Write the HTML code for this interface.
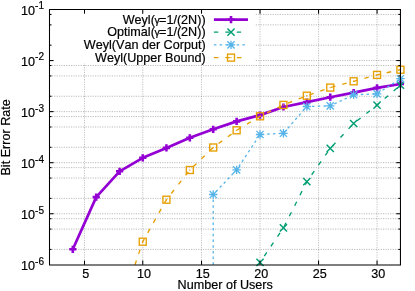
<!DOCTYPE html>
<html><head><meta charset="utf-8"><title>BER plot</title>
<style>
html,body{margin:0;padding:0;background:#fff;}
svg{display:block;will-change:transform;opacity:0.999;}
text{font-family:"Liberation Sans",sans-serif;fill:#000;font-kerning:none;stroke:#000;stroke-width:0.2px;}
</style></head><body>
<svg width="415" height="291" viewBox="0 0 415 291">
<rect width="415" height="291" fill="#fff"/>

<g stroke="#858585" stroke-width="0.55" stroke-dasharray="1.2 1.2" fill="none">
<line x1="84.50" y1="9.5" x2="84.50" y2="264.8" stroke="#909090"/>
<line x1="142.75" y1="9.5" x2="142.75" y2="264.8" stroke="#909090"/>
<line x1="201.52" y1="9.5" x2="201.52" y2="264.8" stroke="#909090"/>
<line x1="260.03" y1="9.5" x2="260.03" y2="264.8" stroke="#909090"/>
<line x1="318.54" y1="9.5" x2="318.54" y2="264.8" stroke="#909090"/>
<line x1="377.05" y1="9.5" x2="377.05" y2="264.8" stroke="#909090"/>
<line x1="49.4" y1="249.43" x2="400.45" y2="249.43"/>
<line x1="49.4" y1="229.11" x2="400.45" y2="229.11"/>
<line x1="49.4" y1="218.69" x2="400.45" y2="218.69"/>
<line x1="49.4" y1="213.74" x2="400.45" y2="213.74"/>
<line x1="49.4" y1="198.37" x2="400.45" y2="198.37"/>
<line x1="49.4" y1="178.05" x2="400.45" y2="178.05"/>
<line x1="49.4" y1="167.63" x2="400.45" y2="167.63"/>
<line x1="49.4" y1="162.68" x2="400.45" y2="162.68"/>
<line x1="49.4" y1="147.31" x2="400.45" y2="147.31"/>
<line x1="49.4" y1="126.99" x2="400.45" y2="126.99"/>
<line x1="49.4" y1="116.57" x2="400.45" y2="116.57"/>
<line x1="49.4" y1="111.62" x2="400.45" y2="111.62"/>
<line x1="49.4" y1="96.25" x2="400.45" y2="96.25"/>
<line x1="49.4" y1="75.93" x2="400.45" y2="75.93"/>
<line x1="49.4" y1="65.51" x2="400.45" y2="65.51"/>
<line x1="49.4" y1="60.56" x2="400.45" y2="60.56"/>
<line x1="49.4" y1="45.19" x2="400.45" y2="45.19"/>
<line x1="49.4" y1="24.87" x2="400.45" y2="24.87"/>
<line x1="49.4" y1="14.45" x2="400.45" y2="14.45"/>
</g>
<rect x="49.4" y="9.5" width="205.60" height="53.70" fill="#fff"/>
<clipPath id="c"><rect x="49.4" y="9.5" width="351.05" height="255.30"/></clipPath>
<polyline points="72.80,249.30 96.21,197.10 119.61,171.30 142.75,157.80 166.42,147.90 189.82,137.80 213.22,129.30 236.63,121.40 260.03,115.10 283.43,107.00 306.84,102.10 330.24,97.20 353.64,92.60 377.05,87.90 400.45,84.00" stroke="#9400d3" stroke-width="2.7" fill="none" stroke-linejoin="round"/>
<path d="M69.20 249.30H76.40M72.80 245.70V252.90" stroke="#9400d3" stroke-width="2.6" fill="none"/>
<path d="M92.61 197.10H99.81M96.21 193.50V200.70" stroke="#9400d3" stroke-width="2.6" fill="none"/>
<path d="M116.01 171.30H123.21M119.61 167.70V174.90" stroke="#9400d3" stroke-width="2.6" fill="none"/>
<path d="M139.15 157.80H146.35M142.75 154.20V161.40" stroke="#9400d3" stroke-width="2.6" fill="none"/>
<path d="M162.82 147.90H170.02M166.42 144.30V151.50" stroke="#9400d3" stroke-width="2.6" fill="none"/>
<path d="M186.22 137.80H193.42M189.82 134.20V141.40" stroke="#9400d3" stroke-width="2.6" fill="none"/>
<path d="M209.62 129.30H216.82M213.22 125.70V132.90" stroke="#9400d3" stroke-width="2.6" fill="none"/>
<path d="M233.03 121.40H240.23M236.63 117.80V125.00" stroke="#9400d3" stroke-width="2.6" fill="none"/>
<path d="M256.43 115.10H263.63M260.03 111.50V118.70" stroke="#9400d3" stroke-width="2.6" fill="none"/>
<path d="M279.83 107.00H287.03M283.43 103.40V110.60" stroke="#9400d3" stroke-width="2.6" fill="none"/>
<path d="M303.24 102.10H310.44M306.84 98.50V105.70" stroke="#9400d3" stroke-width="2.6" fill="none"/>
<path d="M326.64 97.20H333.84M330.24 93.60V100.80" stroke="#9400d3" stroke-width="2.6" fill="none"/>
<path d="M350.04 92.60H357.24M353.64 89.00V96.20" stroke="#9400d3" stroke-width="2.6" fill="none"/>
<path d="M373.45 87.90H380.65M377.05 84.30V91.50" stroke="#9400d3" stroke-width="2.6" fill="none"/>
<path d="M396.85 84.00H404.05M400.45 80.40V87.60" stroke="#9400d3" stroke-width="2.6" fill="none"/>
<polyline points="260.03,262.40 283.43,227.90 306.84,181.60 330.24,148.40 353.64,123.50 377.05,105.10 400.45,85.20" stroke="#009e73" stroke-width="1.35" fill="none" stroke-dasharray="4.5 7.3" stroke-dashoffset="4.25" clip-path="url(#c)"/>
<path d="M256.43 258.80L263.63 266.00M256.43 266.00L263.63 258.80" stroke="#009e73" stroke-width="1.45" fill="none"/>
<path d="M279.83 224.30L287.03 231.50M279.83 231.50L287.03 224.30" stroke="#009e73" stroke-width="1.45" fill="none"/>
<path d="M303.24 178.00L310.44 185.20M303.24 185.20L310.44 178.00" stroke="#009e73" stroke-width="1.45" fill="none"/>
<path d="M326.64 144.80L333.84 152.00M326.64 152.00L333.84 144.80" stroke="#009e73" stroke-width="1.45" fill="none"/>
<path d="M350.04 119.90L357.24 127.10M350.04 127.10L357.24 119.90" stroke="#009e73" stroke-width="1.45" fill="none"/>
<path d="M373.45 101.50L380.65 108.70M373.45 108.70L380.65 101.50" stroke="#009e73" stroke-width="1.45" fill="none"/>
<path d="M396.85 81.60L404.05 88.80M396.85 88.80L404.05 81.60" stroke="#009e73" stroke-width="1.45" fill="none"/>
<polyline points="213.22,264.80 213.22,194.50 236.63,169.90 260.03,134.50 283.43,133.30 306.84,106.50 330.24,105.90 353.64,94.80 377.05,93.90 400.45,78.70" stroke="#56b4e9" stroke-width="1.3" fill="none" stroke-dasharray="2.5 3.2"/>
<path d="M209.02 194.50H217.42M213.22 190.30V198.70M209.62 190.90L216.82 198.10M209.62 198.10L216.82 190.90" stroke="#56b4e9" stroke-width="1.3" fill="none"/>
<path d="M232.43 169.90H240.83M236.63 165.70V174.10M233.03 166.30L240.23 173.50M233.03 173.50L240.23 166.30" stroke="#56b4e9" stroke-width="1.3" fill="none"/>
<path d="M255.83 134.50H264.23M260.03 130.30V138.70M256.43 130.90L263.63 138.10M256.43 138.10L263.63 130.90" stroke="#56b4e9" stroke-width="1.3" fill="none"/>
<path d="M279.23 133.30H287.63M283.43 129.10V137.50M279.83 129.70L287.03 136.90M279.83 136.90L287.03 129.70" stroke="#56b4e9" stroke-width="1.3" fill="none"/>
<path d="M302.64 106.50H311.04M306.84 102.30V110.70M303.24 102.90L310.44 110.10M303.24 110.10L310.44 102.90" stroke="#56b4e9" stroke-width="1.3" fill="none"/>
<path d="M326.04 105.90H334.44M330.24 101.70V110.10M326.64 102.30L333.84 109.50M326.64 109.50L333.84 102.30" stroke="#56b4e9" stroke-width="1.3" fill="none"/>
<path d="M349.44 94.80H357.84M353.64 90.60V99.00M350.04 91.20L357.24 98.40M350.04 98.40L357.24 91.20" stroke="#56b4e9" stroke-width="1.3" fill="none"/>
<path d="M372.85 93.90H381.25M377.05 89.70V98.10M373.45 90.30L380.65 97.50M373.45 97.50L380.65 90.30" stroke="#56b4e9" stroke-width="1.3" fill="none"/>
<path d="M396.25 78.70H404.65M400.45 74.50V82.90M396.85 75.10L404.05 82.30M396.85 82.30L404.05 75.10" stroke="#56b4e9" stroke-width="1.3" fill="none"/>
<polyline points="135.00,264.80 142.75,241.70 166.42,199.70 189.82,170.00 213.22,147.50 236.63,130.30 260.03,116.30 283.43,104.90 306.84,95.70 330.24,87.60 353.64,81.30 377.05,74.90 400.45,69.70" stroke="#e69f00" stroke-width="1.35" fill="none" stroke-dasharray="4.5 7.0"/>
<rect x="139.25" y="238.20" width="7.0" height="7.0" stroke="#e69f00" stroke-width="1.35" fill="none"/><circle cx="142.75" cy="241.70" r="0.7" fill="#e69f00"/>
<rect x="162.92" y="196.20" width="7.0" height="7.0" stroke="#e69f00" stroke-width="1.35" fill="none"/><circle cx="166.42" cy="199.70" r="0.7" fill="#e69f00"/>
<rect x="186.32" y="166.50" width="7.0" height="7.0" stroke="#e69f00" stroke-width="1.35" fill="none"/><circle cx="189.82" cy="170.00" r="0.7" fill="#e69f00"/>
<rect x="209.72" y="144.00" width="7.0" height="7.0" stroke="#e69f00" stroke-width="1.35" fill="none"/><circle cx="213.22" cy="147.50" r="0.7" fill="#e69f00"/>
<rect x="233.13" y="126.80" width="7.0" height="7.0" stroke="#e69f00" stroke-width="1.35" fill="none"/><circle cx="236.63" cy="130.30" r="0.7" fill="#e69f00"/>
<rect x="256.53" y="112.80" width="7.0" height="7.0" stroke="#e69f00" stroke-width="1.35" fill="none"/><circle cx="260.03" cy="116.30" r="0.7" fill="#e69f00"/>
<rect x="279.93" y="101.40" width="7.0" height="7.0" stroke="#e69f00" stroke-width="1.35" fill="none"/><circle cx="283.43" cy="104.90" r="0.7" fill="#e69f00"/>
<rect x="303.34" y="92.20" width="7.0" height="7.0" stroke="#e69f00" stroke-width="1.35" fill="none"/><circle cx="306.84" cy="95.70" r="0.7" fill="#e69f00"/>
<rect x="326.74" y="84.10" width="7.0" height="7.0" stroke="#e69f00" stroke-width="1.35" fill="none"/><circle cx="330.24" cy="87.60" r="0.7" fill="#e69f00"/>
<rect x="350.14" y="77.80" width="7.0" height="7.0" stroke="#e69f00" stroke-width="1.35" fill="none"/><circle cx="353.64" cy="81.30" r="0.7" fill="#e69f00"/>
<rect x="373.55" y="71.40" width="7.0" height="7.0" stroke="#e69f00" stroke-width="1.35" fill="none"/><circle cx="377.05" cy="74.90" r="0.7" fill="#e69f00"/>
<rect x="396.95" y="66.20" width="7.0" height="7.0" stroke="#e69f00" stroke-width="1.35" fill="none"/><circle cx="400.45" cy="69.70" r="0.7" fill="#e69f00"/>
<g stroke="#000" stroke-width="1.05" fill="none">
<path d="M48.98 9.5H400.96999999999997M48.98 264.90000000000003H400.96999999999997M49.5 9.5V264.90000000000003M400.45 9.5V264.90000000000003"/>
<line x1="84.50" y1="264.8" x2="84.50" y2="260.6"/>
<line x1="84.50" y1="9.5" x2="84.50" y2="13.7"/>
<line x1="142.75" y1="264.8" x2="142.75" y2="260.6"/>
<line x1="142.75" y1="9.5" x2="142.75" y2="13.7"/>
<line x1="201.52" y1="264.8" x2="201.52" y2="260.6"/>
<line x1="201.52" y1="9.5" x2="201.52" y2="13.7"/>
<line x1="260.03" y1="264.8" x2="260.03" y2="260.6"/>
<line x1="260.03" y1="9.5" x2="260.03" y2="13.7"/>
<line x1="318.54" y1="264.8" x2="318.54" y2="260.6"/>
<line x1="318.54" y1="9.5" x2="318.54" y2="13.7"/>
<line x1="377.05" y1="264.8" x2="377.05" y2="260.6"/>
<line x1="377.05" y1="9.5" x2="377.05" y2="13.7"/>
<line x1="49.4" y1="249.43" x2="51.5" y2="249.43"/>
<line x1="400.45" y1="249.43" x2="398.34999999999997" y2="249.43"/>
<line x1="49.4" y1="229.11" x2="51.5" y2="229.11"/>
<line x1="400.45" y1="229.11" x2="398.34999999999997" y2="229.11"/>
<line x1="49.4" y1="218.69" x2="51.5" y2="218.69"/>
<line x1="400.45" y1="218.69" x2="398.34999999999997" y2="218.69"/>
<line x1="49.4" y1="213.74" x2="53.6" y2="213.74"/>
<line x1="400.45" y1="213.74" x2="396.25" y2="213.74"/>
<line x1="49.4" y1="198.37" x2="51.5" y2="198.37"/>
<line x1="400.45" y1="198.37" x2="398.34999999999997" y2="198.37"/>
<line x1="49.4" y1="178.05" x2="51.5" y2="178.05"/>
<line x1="400.45" y1="178.05" x2="398.34999999999997" y2="178.05"/>
<line x1="49.4" y1="167.63" x2="51.5" y2="167.63"/>
<line x1="400.45" y1="167.63" x2="398.34999999999997" y2="167.63"/>
<line x1="49.4" y1="162.68" x2="53.6" y2="162.68"/>
<line x1="400.45" y1="162.68" x2="396.25" y2="162.68"/>
<line x1="49.4" y1="147.31" x2="51.5" y2="147.31"/>
<line x1="400.45" y1="147.31" x2="398.34999999999997" y2="147.31"/>
<line x1="49.4" y1="126.99" x2="51.5" y2="126.99"/>
<line x1="400.45" y1="126.99" x2="398.34999999999997" y2="126.99"/>
<line x1="49.4" y1="116.57" x2="51.5" y2="116.57"/>
<line x1="400.45" y1="116.57" x2="398.34999999999997" y2="116.57"/>
<line x1="49.4" y1="111.62" x2="53.6" y2="111.62"/>
<line x1="400.45" y1="111.62" x2="396.25" y2="111.62"/>
<line x1="49.4" y1="96.25" x2="51.5" y2="96.25"/>
<line x1="400.45" y1="96.25" x2="398.34999999999997" y2="96.25"/>
<line x1="49.4" y1="75.93" x2="51.5" y2="75.93"/>
<line x1="400.45" y1="75.93" x2="398.34999999999997" y2="75.93"/>
<line x1="49.4" y1="65.51" x2="51.5" y2="65.51"/>
<line x1="400.45" y1="65.51" x2="398.34999999999997" y2="65.51"/>
<line x1="49.4" y1="60.56" x2="53.6" y2="60.56"/>
<line x1="400.45" y1="60.56" x2="396.25" y2="60.56"/>
<line x1="49.4" y1="45.19" x2="51.5" y2="45.19"/>
<line x1="400.45" y1="45.19" x2="398.34999999999997" y2="45.19"/>
<line x1="49.4" y1="24.87" x2="51.5" y2="24.87"/>
<line x1="400.45" y1="24.87" x2="398.34999999999997" y2="24.87"/>
<line x1="49.4" y1="14.45" x2="51.5" y2="14.45"/>
<line x1="400.45" y1="14.45" x2="398.34999999999997" y2="14.45"/>
</g>
<line x1="213.9" y1="19.6" x2="248.0" y2="19.6" stroke="#9400d3" stroke-width="2.7"/>
<path d="M227.40 19.60H234.60M231.00 16.00V23.20" stroke="#9400d3" stroke-width="2.6" fill="none"/>
<line x1="213.9" y1="32.1" x2="248.0" y2="32.1" stroke="#009e73" stroke-width="1.35" stroke-dasharray="4.4 7"/>
<path d="M227.40 28.50L234.60 35.70M227.40 35.70L234.60 28.50" stroke="#009e73" stroke-width="1.45" fill="none"/>
<line x1="213.9" y1="44.85" x2="248.0" y2="44.85" stroke="#56b4e9" stroke-width="1.3" stroke-dasharray="2.5 3.2"/>
<path d="M226.80 44.85H235.20M231.00 40.65V49.05M227.40 41.25L234.60 48.45M227.40 48.45L234.60 41.25" stroke="#56b4e9" stroke-width="1.3" fill="none"/>
<line x1="213.9" y1="57.6" x2="248.0" y2="57.6" stroke="#e69f00" stroke-width="1.35" stroke-dasharray="4.5 7.0"/>
<rect x="227.50" y="54.10" width="7.0" height="7.0" stroke="#e69f00" stroke-width="1.35" fill="none"/><circle cx="231.00" cy="57.60" r="0.7" fill="#e69f00"/>
<text x="205.6" y="23.90" font-size="12.6" text-anchor="end">Weyl(<tspan font-size="10.6" dx="-0.4">γ</tspan><tspan dx="-0.7">=1/(2N))</tspan></text>
<text x="205.6" y="36.40" font-size="12.6" text-anchor="end">Optimal(<tspan font-size="10.6" dx="-0.4">γ</tspan><tspan dx="-0.7">=1/(2N))</tspan></text>
<text x="205.6" y="49.15" font-size="12.6" text-anchor="end">Weyl(Van der Corput)</text>
<text x="205.6" y="61.90" font-size="12.6" text-anchor="end">Weyl(Upper Bound)</text>
<text x="82.20" y="277.50" font-size="13" textLength="7.0" lengthAdjust="spacingAndGlyphs">5</text>
<text x="136.95" y="277.50" font-size="13" textLength="14.0" lengthAdjust="spacingAndGlyphs">10</text>
<text x="195.72" y="277.50" font-size="13" textLength="14.0" lengthAdjust="spacingAndGlyphs">15</text>
<text x="254.23" y="277.50" font-size="13" textLength="14.0" lengthAdjust="spacingAndGlyphs">20</text>
<text x="312.74" y="277.50" font-size="13" textLength="14.0" lengthAdjust="spacingAndGlyphs">25</text>
<text x="371.25" y="277.50" font-size="13" textLength="14.0" lengthAdjust="spacingAndGlyphs">30</text>
<text x="44" y="270.00" font-size="12.6" text-anchor="end">10<tspan font-size="10" dy="-5.3">-6</tspan></text>
<text x="44" y="218.94" font-size="12.6" text-anchor="end">10<tspan font-size="10" dy="-5.3">-5</tspan></text>
<text x="44" y="167.88" font-size="12.6" text-anchor="end">10<tspan font-size="10" dy="-5.3">-4</tspan></text>
<text x="44" y="116.82" font-size="12.6" text-anchor="end">10<tspan font-size="10" dy="-5.3">-3</tspan></text>
<text x="44" y="65.76" font-size="12.6" text-anchor="end">10<tspan font-size="10" dy="-5.3">-2</tspan></text>
<text x="44" y="14.70" font-size="12.6" text-anchor="end">10<tspan font-size="10" dy="-5.3">-1</tspan></text>
<text x="225.2" y="289.1" font-size="12.6" text-anchor="middle">Number of Users</text>
<text transform="translate(10.4,137.4) rotate(-90)" font-size="12.6" text-anchor="middle">Bit Error Rate</text>
</svg></body></html>
